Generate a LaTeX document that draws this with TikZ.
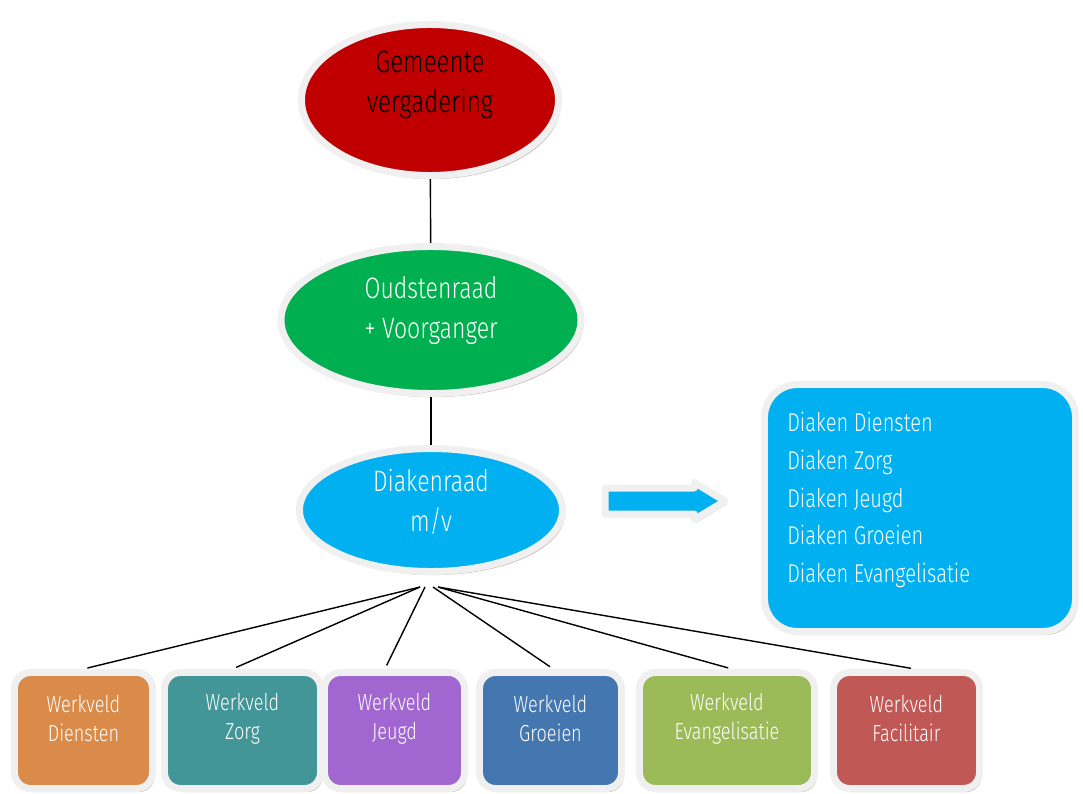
\documentclass[tikz,border=0pt]{standalone}
\usepackage{fontspec}
\setmainfont{Fira Sans Light}[FakeStretch=0.78]
\usepackage{tikz}
\usetikzlibrary{shapes.geometric}
\usetikzlibrary{shapes.arrows}
\usetikzlibrary{shadows}

\definecolor{randgrijs}{RGB}{240,240,240}
\definecolor{gemrood}{RGB}{192,0,0}
\definecolor{oudgroen}{RGB}{0,176,80}
\definecolor{cyaan}{RGB}{0,176,240}
\definecolor{oranje}{RGB}{218,139,74}
\definecolor{teal}{RGB}{67,150,152}
\definecolor{paars}{RGB}{161,102,208}
\definecolor{blauw}{RGB}{68,119,176}
\definecolor{lichtgroen}{RGB}{155,187,89}
\definecolor{steenrood}{RGB}{192,88,85}
\definecolor{schaduw}{RGB}{150,160,130}
\definecolor{roodschaduw}{RGB}{160,110,110}

\begin{document}
\begin{tikzpicture}
    [
    x=0.025cm, y=-0.025cm,
    orgaan/.style={ellipse,draw=randgrijs,line width=0.175cm,inner sep=0pt,
      drop shadow={shadow xshift=0.06cm,shadow yshift=-0.09cm,opacity=0.5,fill=roodschaduw}},
    werkveld/.style={rectangle,rounded corners=0.4cm,draw=randgrijs,line width=0.175cm,
      inner sep=0pt,minimum height=2.9cm,
      drop shadow={shadow xshift=0.06cm,shadow yshift=-0.09cm,opacity=0.5,fill=schaduw}},
    pijl/.style={single arrow,fill=cyaan,draw=randgrijs,line width=0.175cm,line join=round,
      minimum height=3cm,inner sep=0.2375cm,
      single arrow head extend=0.1375cm,single arrow tip angle=62,
      drop shadow={shadow xshift=0.05cm,shadow yshift=-0.08cm,opacity=0.5,fill=schaduw}},
    kop/.style={align=center,text=white,font=\fontsize{21}{28.5}\selectfont},
    veldtekst/.style={align=center,text=white,font=\fontsize{16.5}{20.6}\selectfont},
    lijn/.style={line width=1pt}
    ]
    \useasboundingbox (0,0) rectangle (1083,794);

    % organen
    \node[orgaan,fill=gemrood,minimum width=6.425cm,minimum height=3.775cm] (gem) at (430,100) {};
    \node[orgaan,fill=oudgroen,minimum width=7.5cm,minimum height=3.675cm] (oud) at (431,320) {};
    \node[orgaan,fill=cyaan,minimum width=6.575cm,minimum height=3.075cm] (diak) at (431,510) {};
    \node[kop,text=black,font=\fontsize{22}{28.5}\selectfont] (gemtekst) at (430,85) {Gemeente\\vergadering};
    \node[kop] (oudtekst) at (431,311) {Oudstenraad\\+ Voorganger};
    \node[kop] (diaktekst) at (431,502) {Diakenraad\\m/v};

    % werkvelden
    \node[werkveld,fill=oranje,minimum width=3.45cm] (w1) at (83.5,730.5) {};
    \node[werkveld,fill=teal,minimum width=3.9cm] (w2) at (242.5,730.5) {};
    \node[werkveld,fill=paars,minimum width=3.5cm] (w3) at (394.5,730.5) {};
    \node[werkveld,fill=blauw,minimum width=3.55cm] (w4) at (550.5,730.5) {};
    \node[werkveld,fill=lichtgroen,minimum width=4.375cm] (w5) at (727,730.5) {};
    \node[werkveld,fill=steenrood,minimum width=3.65cm] (w6) at (906.5,730.5) {};
    \node[veldtekst] (w1tekst) at (83.5,718.5) {Werkveld\\Diensten};
    \node[veldtekst] (w2tekst) at (242.5,718.5) {Werkveld\\Zorg};
    \node[veldtekst] (w3tekst) at (394.5,718.5) {Werkveld\\Jeugd};
    \node[veldtekst] (w4tekst) at (550.5,718.5) {Werkveld\\Groeien};
    \node[veldtekst] (w5tekst) at (727,718.5) {Werkveld\\Evangelisatie};
    \node[veldtekst] (w6tekst) at (906.5,718.5) {Werkveld\\Facilitair};

    % diakenen
    \node[pijl,anchor=tail] (pijl) at (601.5,501) {};
    \node[rectangle,rounded corners=0.825cm,fill=cyaan,draw=randgrijs,line width=0.175cm,
      minimum width=7.775cm,minimum height=6.175cm,
      drop shadow={shadow xshift=0.06cm,shadow yshift=-0.09cm,opacity=0.5,fill=schaduw}] (lijst) at (920,508) {};
    \node[anchor=west,align=left,text=white,font=\fontsize{18.3}{26.7}\selectfont,inner sep=0pt] (lijsttekst) at (787,500)
      {Diaken Diensten\\Diaken Zorg\\Diaken Jeugd\\Diaken Groeien\\Diaken Evangelisatie};

    \path[lijn]
        (gem) edge (oud)
        (oud) edge (diak)
        ([xshift=-0.275cm,yshift=-0.3cm]diak.south) edge[shorten >=0.1cm] (w1.north)
        ([xshift=-0.275cm,yshift=-0.3cm]diak.south) edge[shorten >=0.1cm] ([xshift=-0.25cm]w2.north)
        ([xshift=-0.15cm,yshift=-0.3cm]diak.south) edge[shorten >=0.1cm] ([xshift=-0.24cm]w3.north)
        ([xshift=0.05cm,yshift=-0.3cm]diak.south) edge[shorten >=0.1cm] ([xshift=0.07cm]w4.north)
        ([xshift=0.175cm,yshift=-0.3cm]diak.south) edge[shorten >=0.1cm] ([xshift=0.125cm]w5.north)
        ([xshift=0.175cm,yshift=-0.3cm]diak.south) edge[shorten >=0.1cm] ([xshift=0.21cm]w6.north)
    ;
\end{tikzpicture}
\end{document}
